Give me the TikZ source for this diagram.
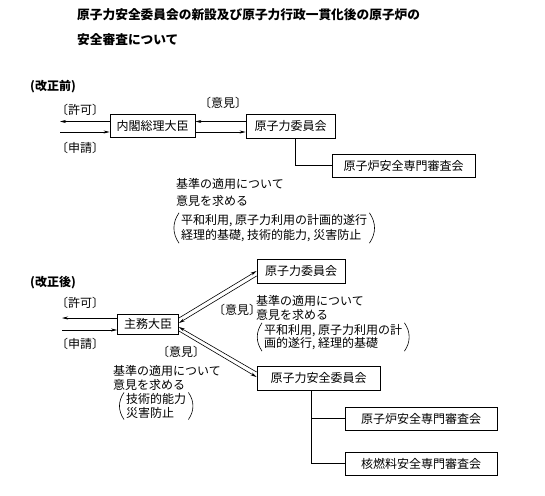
\documentclass[tikz,border=0pt]{standalone}
\usepackage{fontspec}
\setmainfont{Noto Sans CJK JP}
\usetikzlibrary{arrows.meta}

\begin{document}
\begin{tikzpicture}[x=1pt,y=-1pt,
  box/.style={draw,line width=0.8pt,minimum height=23pt,inner sep=0pt,font=\fontsize{12}{14}\selectfont},
  lbl/.style={anchor=west,inner sep=0pt,font=\fontsize{12}{14}\selectfont},
  cond/.style={anchor=west,inner sep=0pt,align=left,font=\fontsize{12}{14}\selectfont},
  paren/.style={line width=0.6pt},
  ttl/.style={anchor=west,inner sep=0pt,font=\fontsize{12.7}{15}\selectfont\bfseries},
  arr/.style={line width=0.6pt,-{Stealth[length=6pt,width=3pt]}},
  link/.style={line width=0.6pt}]
\useasboundingbox (0,0) rectangle (545,495);

% title
\node[ttl] (title1) at (77,15) {原子力安全委員会の新設及び原子力行政一貫化後の原子炉の};
\node[ttl] (title2) at (77,40) {安全審査について};

% before the amendment
\node[ttl,font=\fontsize{12}{14}\selectfont\bfseries] (before) at (30,87) {(改正前)};

\node[box,minimum width=85pt] (cabinet) at (152.5,126) {内閣総理大臣};
\node[box,minimum width=89pt,minimum height=24pt] (aec) at (290.5,126) {原子力委員会};
\node[box,minimum width=143pt] (rsc) at (403.5,165.5) {原子炉安全専門審査会};

\node[lbl] (permit) at (56,110) {〔許可〕};
\node[lbl] (apply) at (56,148) {〔申請〕};
\node[lbl] (opinion) at (199,103) {〔意見〕};

\coordinate (outA) at (60,121.5);
\coordinate (inA) at (60,132);
\draw[arr] ([yshift=4.5]cabinet.west) -- (outA);
\draw[arr] (inA) -- ([yshift=-6]cabinet.west);
\draw[arr] ([yshift=4.5]aec.west) -- ([yshift=4.5]cabinet.east);
\draw[arr] ([yshift=-6]cabinet.east) -- ([yshift=-6]aec.west);
\draw[link] ([xshift=4.5]aec.south) |- (rsc.west);

\node[lbl] (ask1) at (176,184) {基準の適用について};
\node[lbl] (ask2) at (176,201) {意見を求める};
\node[cond,font=\fontsize{12}{15.5}\selectfont] (cond1) at (181,228) {平和利用, 原子力利用の計画的遂行\\ 経理的基礎, 技術的能力, 災害防止};
\draw[paren] ([xshift=-2,yshift=1]cond1.north west) to[bend right=35] ([xshift=-2,yshift=-1]cond1.south west);
\draw[paren] ([xshift=2,yshift=1]cond1.north east) to[bend left=35] ([xshift=2,yshift=-1]cond1.south east);

% after the amendment
\node[ttl,font=\fontsize{12}{14}\selectfont\bfseries] (after) at (30,283) {(改正後)};

\node[box,minimum width=88pt,minimum height=24pt] (aec2) at (301,271) {原子力委員会};
\node[box,minimum width=61pt,minimum height=20pt] (minister) at (148,324) {主務大臣};
\node[box,minimum width=123pt,minimum height=24pt] (nsc) at (318.5,378) {原子力安全委員会};
\node[box,minimum width=152pt] (rsc2) at (421,418.5) {原子炉安全専門審査会};
\node[box,minimum width=152pt] (nfsc) at (421,463.5) {核燃料安全専門審査会};

\node[lbl] (permit2) at (56,303) {〔許可〕};
\node[lbl] (apply2) at (56,344) {〔申請〕};
\node[lbl] (opinion2) at (213,310) {〔意見〕};
\node[lbl] (opinion3) at (157,352) {〔意見〕};

\coordinate (outB) at (62,318);
\coordinate (inB) at (62,330);
\draw[arr] ([yshift=6]minister.west) -- (outB);
\draw[arr] (inB) -- ([yshift=-6]minister.west);

\draw[arr] ([yshift=6]minister.east) -- ([yshift=0]aec2.west);
\draw[arr] ([yshift=-5]aec2.west) -- ([yshift=1]minister.east);
\draw[arr] ([yshift=6]nsc.west) -- ([yshift=-3]minister.east);
\draw[arr] ([yshift=-7]minister.east) -- ([yshift=1]nsc.west);

\draw[link] ([xshift=-7.5]nsc.south) |- (rsc2.west);
\draw[link] ([xshift=-7.5]nsc.south) |- (nfsc.west);

\node[lbl] (ask3) at (256,301) {基準の適用について};
\node[lbl] (ask4) at (256,315) {意見を求める};
\node[cond,font=\fontsize{12}{13.5}\selectfont] (cond2) at (264,337) {平和利用, 原子力利用の計\\ 画的遂行, 経理的基礎};
\draw[paren] ([xshift=-2,yshift=1]cond2.north west) to[bend right=35] ([xshift=-2,yshift=-1]cond2.south west);
\draw[paren] ([xshift=2,yshift=1]cond2.north east) to[bend left=35] ([xshift=2,yshift=-1]cond2.south east);

\node[lbl] (ask5) at (113,371) {基準の適用について};
\node[lbl] (ask6) at (113,385) {意見を求める};
\node[cond,font=\fontsize{12}{13.5}\selectfont] (cond3) at (126,406) {技術的能力\\ 災害防止};
\draw[paren] ([xshift=-2,yshift=1]cond3.north west) to[bend right=35] ([xshift=-2,yshift=-1]cond3.south west);
\draw[paren] ([xshift=2,yshift=1]cond3.north east) to[bend left=35] ([xshift=2,yshift=-1]cond3.south east);

\end{tikzpicture}
\end{document}
